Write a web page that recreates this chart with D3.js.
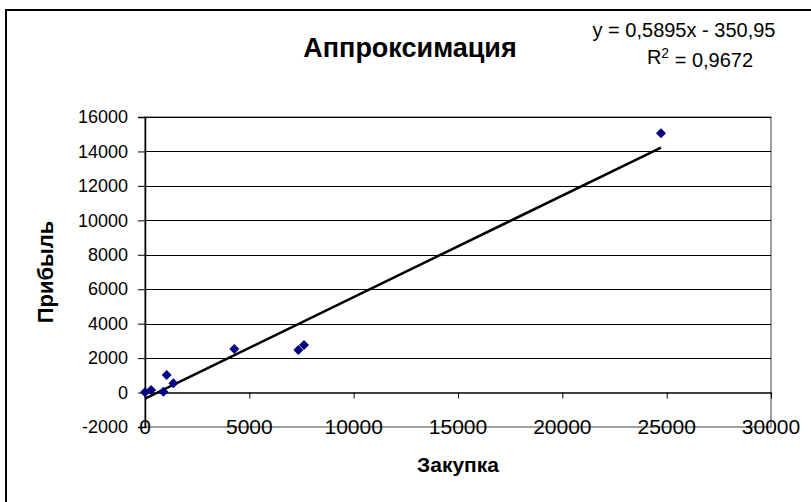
<!DOCTYPE html>
<html>
<head>
<meta charset="utf-8">
<script src="https://cdn.jsdelivr.net/npm/d3@7/dist/d3.min.js"></script>
<style>
  html, body { margin: 0; padding: 0; background: #fff; }
  svg { display: block; font-family: "Liberation Sans", Arial, sans-serif; }
</style>
</head>
<body>
<svg id="chart" width="811" height="502"></svg>
<script>
// Закупка (x) and Прибыль (y) observations
const purchase = [0, 290, 880, 1040, 1360, 4280, 7350, 7620, 24730];
const profit   = [20, 150, 50, 1020, 540, 2530, 2470, 2760, 15060];

// Linear trend reported on the chart
const slope = 0.5895;
const intercept = -350.95;
const rSquared = "0,9672";

const xTicks = [0, 5000, 10000, 15000, 20000, 25000, 30000];
const yTicks = [-2000, 0, 2000, 4000, 6000, 8000, 10000, 12000, 14000, 16000];

const titleText = "Аппроксимация";
const xTitle = "Закупка";
const yTitle = "Прибыль";

const fmt = v => String(v).replace(".", ",");

const svg = d3.select("#chart");
const W = 811, H = 502;

// outer frame (only left/top edges fall inside the canvas)
svg.append("rect")
  .attr("x", 6).attr("y", 10)
  .attr("width", W + 20).attr("height", H + 20)
  .attr("fill", "#fff").attr("stroke", "#000").attr("stroke-width", 2);

const plot = { left: 145, right: 771, top: 117, bottom: 427 };

const x = d3.scaleLinear().domain([0, 30000]).range([plot.left, plot.right]);
const y = d3.scaleLinear().domain([-2000, 16000]).range([plot.bottom, plot.top]);

// plot area border
svg.append("rect")
  .attr("x", plot.left).attr("y", plot.top)
  .attr("width", plot.right - plot.left).attr("height", plot.bottom - plot.top)
  .attr("fill", "none").attr("stroke", "#808080").attr("stroke-width", 1.5);

// horizontal gridlines
svg.append("g")
  .selectAll("line")
  .data(yTicks.filter(t => t > 0))
  .join("line")
  .attr("x1", plot.left).attr("x2", plot.right)
  .attr("y1", d => Math.round(y(d)) + 0.5).attr("y2", d => Math.round(y(d)) + 0.5)
  .attr("stroke", "#000").attr("stroke-width", 1);

// y axis
const yAxis = svg.append("g")
  .attr("transform", `translate(${plot.left},0)`)
  .call(d3.axisLeft(y).tickValues(yTicks).tickSize(7).tickPadding(10).tickFormat(d => d));
yAxis.select(".domain").attr("stroke", "#000").attr("stroke-width", 1.5);
yAxis.selectAll(".tick line").attr("stroke", "#000");
yAxis.selectAll("text").attr("font-size", 18).attr("fill", "#000")
  .attr("font-family", "Liberation Sans, Arial, sans-serif");

// x axis along y = 0
const xAxis = svg.append("g")
  .attr("transform", `translate(0,${y(0)})`)
  .call(d3.axisBottom(x).tickValues(xTicks).tickSize(6).tickSizeOuter(0).tickFormat(() => ""));
xAxis.select(".domain").attr("stroke", "#000").attr("stroke-width", 1.5);
xAxis.selectAll(".tick line").attr("stroke", "#000");

// x tick labels sit at the bottom of the plot area
svg.append("g")
  .selectAll("text")
  .data(xTicks)
  .join("text")
  .attr("x", d => x(d))
  .attr("y", plot.bottom)
  .attr("dy", "0.35em")
  .attr("text-anchor", "middle")
  .attr("font-size", 21)
  .text(d => d);

// trend line over the observed x range
const xMin = d3.min(purchase), xMax = d3.max(purchase);
svg.append("line")
  .attr("x1", x(xMin)).attr("y1", y(slope * xMin + intercept))
  .attr("x2", x(xMax)).attr("y2", y(slope * xMax + intercept))
  .attr("stroke", "#000").attr("stroke-width", 2.5);

// diamond markers
const diamond = d3.symbol().type(d3.symbolDiamond2).size(64);
svg.append("g")
  .selectAll("path")
  .data(purchase.map((v, i) => [v, profit[i]]))
  .join("path")
  .attr("d", diamond)
  .attr("transform", d => `translate(${x(d[0])},${y(d[1])})`)
  .attr("fill", "#000080");

// title
svg.append("text")
  .attr("x", 410).attr("y", 48).attr("dy", "0.35em")
  .attr("text-anchor", "middle")
  .attr("font-size", 27).attr("font-weight", "bold")
  .text(titleText);

// regression equation and R²
const eq = svg.append("g").attr("font-size", 20).attr("text-anchor", "middle");
eq.append("text")
  .attr("x", 684).attr("y", 30).attr("dy", "0.35em")
  .text(`y = ${fmt(slope)}x - ${fmt(Math.abs(intercept))}`);
const r2 = eq.append("text")
  .attr("x", 700).attr("y", 57).attr("dy", "0.35em");
r2.append("tspan").text("R");
r2.append("tspan").attr("dy", "-0.45em").attr("font-size", 14).text("2");
r2.append("tspan").attr("dy", "0.45em").text(` = ${rSquared}`);

// axis titles
svg.append("text")
  .attr("x", 458).attr("y", 465).attr("dy", "0.35em")
  .attr("text-anchor", "middle")
  .attr("font-size", 21).attr("font-weight", "bold")
  .text(xTitle);

svg.append("text")
  .attr("transform", `translate(45,${(plot.top + plot.bottom) / 2}) rotate(-90)`)
  .attr("dy", "0.35em")
  .attr("text-anchor", "middle")
  .attr("font-size", 22).attr("font-weight", "bold")
  .text(yTitle);
</script>
</body>
</html>
